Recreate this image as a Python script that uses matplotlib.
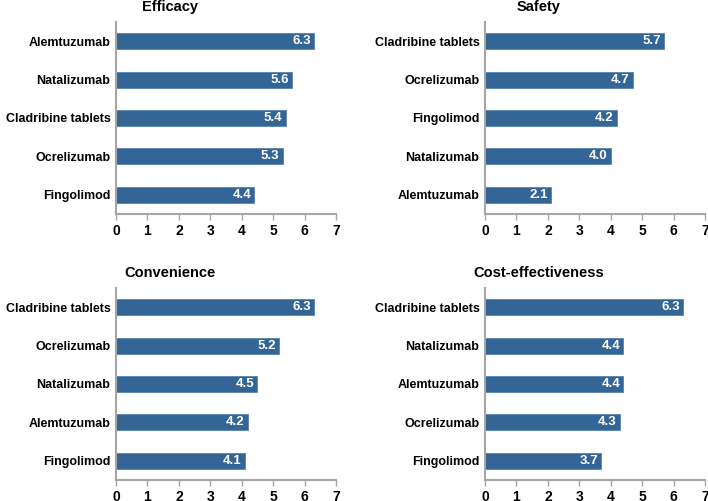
import matplotlib
matplotlib.use("Agg")
import matplotlib.pyplot as plt

plt.rcParams['font.family'] = ['Liberation Sans', 'DejaVu Sans']
plt.rcParams['font.weight'] = 'bold'

# Panel data (top to bottom as shown)
efficacy_labels = ["Alemtuzumab", "Natalizumab", "Cladribine tablets", "Ocrelizumab", "Fingolimod"]
efficacy_values = [6.3, 5.6, 5.4, 5.3, 4.4]

safety_labels = ["Cladribine tablets", "Ocrelizumab", "Fingolimod", "Natalizumab", "Alemtuzumab"]
safety_values = [5.7, 4.7, 4.2, 4.0, 2.1]

convenience_labels = ["Cladribine tablets", "Ocrelizumab", "Natalizumab", "Alemtuzumab", "Fingolimod"]
convenience_values = [6.3, 5.2, 4.5, 4.2, 4.1]

cost_labels = ["Cladribine tablets", "Natalizumab", "Alemtuzumab", "Ocrelizumab", "Fingolimod"]
cost_values = [6.3, 4.4, 4.4, 4.3, 3.7]

panels = [
    ("Efficacy", efficacy_labels, efficacy_values),
    ("Safety", safety_labels, safety_values),
    ("Convenience", convenience_labels, convenience_values),
    ("Cost-effectiveness", cost_labels, cost_values),
]

W, H = 708, 501
fig = plt.figure(figsize=(W / 100, H / 100), dpi=100)

bar_color = '#346597'
spine_color = '#a6a6a6'

# axes boxes in pixels: left, top (width/height shared)
boxes = [(116, 22), (485, 22), (116, 288), (485, 288)]
ax_w, ax_h = 220, 192

for (title, labels, values), (left, top) in zip(panels, boxes):
    ax = fig.add_axes([left / W, 1 - (top + ax_h) / H, ax_w / W, ax_h / H])
    y = list(range(len(labels)))
    ax.barh(y, values, height=0.42, color=bar_color, edgecolor='#5a82ad', linewidth=0.6)
    for yi, v in zip(y, values):
        ax.text(v - 0.1, yi, f"{v:.1f}", color='white', fontsize=9.5,
                fontweight='bold', ha='right', va='center')
    ax.set_ylim(len(labels) - 0.5, -0.5)
    ax.set_xlim(0, 7)
    ax.set_xticks(range(8))
    ax.set_yticks(y)
    ax.set_yticklabels(labels, fontsize=9, fontweight='bold')
    ax.tick_params(axis='y', length=0, pad=4)
    ax.tick_params(axis='x', length=4, width=1, color=spine_color, labelsize=10, pad=3)
    for lbl in ax.get_xticklabels():
        lbl.set_fontweight('bold')
    for s in ['top', 'right']:
        ax.spines[s].set_visible(False)
    for s in ['left', 'bottom']:
        ax.spines[s].set_color(spine_color)
        ax.spines[s].set_linewidth(1.5)
    fig.text((left + 54) / W, 1 - (top - 15) / H, title, fontsize=10.5,
             fontweight='bold', ha='center', va='center')

fig.savefig("out.png", dpi=100)
